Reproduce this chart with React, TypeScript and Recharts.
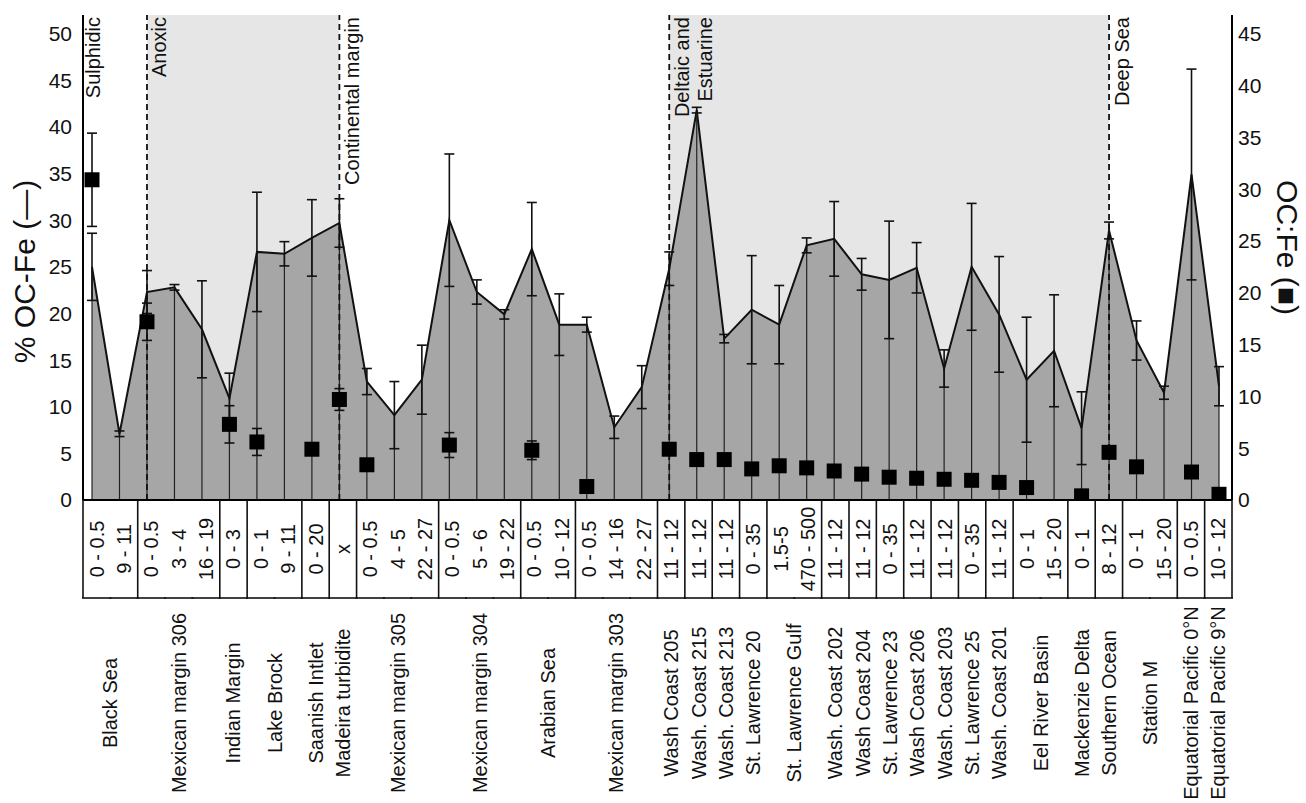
import React from 'react';
import {
  ComposedChart,
  Area,
  Line,
  XAxis,
  YAxis,
  ErrorBar,
  ReferenceArea,
  ReferenceLine,
} from 'recharts';

// ---------- data ----------
const siteNames = [
  'Black Sea', 'Black Sea',
  'Mexican margin 306', 'Mexican margin 306', 'Mexican margin 306',
  'Indian Margin',
  'Lake Brock', 'Lake Brock',
  'Saanish Intlet',
  'Madeira turbidite',
  'Mexican margin 305', 'Mexican margin 305', 'Mexican margin 305',
  'Mexican margin 304', 'Mexican margin 304', 'Mexican margin 304',
  'Arabian Sea', 'Arabian Sea',
  'Mexican margin 303', 'Mexican margin 303', 'Mexican margin 303',
  'Wash Coast 205',
  'Wash. Coast 215',
  'Wash. Coast 213',
  'St. Lawrence 20',
  'St. Lawrence Gulf', 'St. Lawrence Gulf',
  'Wash. Coast 202',
  'Wash Coast 204',
  'St. Lawrence 23',
  'Wash Coast 206',
  'Wash. Coast 203',
  'St. Lawrence 25',
  'Wash. Coast 201',
  'Eel River Basin', 'Eel River Basin',
  'Mackenzie Delta',
  'Southern Ocean',
  'Station M', 'Station M',
  'Equatorial Pacific 0°N',
  'Equatorial Pacific 9°N',
];

const depthLabels = [
  '0 - 0.5', '9 - 11',
  '0 - 0.5', '3 - 4', '16 - 19',
  '0 - 3',
  '0 - 1', '9 - 11',
  '0 - 20',
  'x',
  '0 - 0.5', '4 - 5', '22 - 27',
  '0 - 0.5', '5 - 6', '19 - 22',
  '0 - 0.5', '10 - 12',
  '0 - 0.5', '14 - 16', '22 - 27',
  '11 - 12', '11 - 12', '11 - 12',
  '0 - 35',
  '1.5-5', '470 - 500',
  '11 - 12', '11 - 12',
  '0 - 35',
  '11 - 12', '11 - 12',
  '0 - 35',
  '11 - 12',
  '0 - 1', '15 - 20',
  '0 - 1',
  '8 - 12',
  '0 - 1', '15 - 20',
  '0 - 0.5',
  '10 - 12',
];

// % OC-Fe (left axis, area)
const ocFePct = [
  25.0, 7.1, 22.3, 22.8, 18.3, 10.9, 26.6, 26.4, 28.1, 29.7,
  12.7, 9.1, 12.9, 30.0, 22.3, 19.9, 26.9, 18.8, 18.8, 7.8,
  12.1, 24.8, 41.8, 17.3, 20.4, 18.8, 27.3, 28.0, 24.2, 23.6,
  24.9, 14.1, 25.0, 19.9, 12.9, 16.0, 7.7, 28.9, 17.1, 11.5,
  34.9, 12.2,
];
const ocFePctErr = [
  3.6, 0.3, 2.3, 0.3, 5.2, 2.7, 6.4, 1.3, 4.1, 2.6,
  1.4, 3.6, 3.7, 7.1, 1.3, 0.5, 5.0, 3.3, 0.8, 1.2,
  2.3, 1.8, 0.3, 0.45, 5.8, 4.2, 0.8, 4.0, 1.7, 6.3,
  2.7, 2.0, 6.8, 6.2, 6.7, 6.0, 3.9, 0.9, 2.1, 0.7,
  11.3, 2.1,
];

// OC:Fe molar ratio (right axis, squares)
const ocFeRatio: (number | null)[] = [
  30.9, null, 17.2, null, null, 7.3, 5.6, null, 4.9, 9.7,
  3.4, null, null, 5.3, null, null, 4.8, null, 1.3, null,
  null, 4.9, 3.9, 3.9, 3.0, 3.3, 3.1, 2.8, 2.5, 2.2,
  2.1, 2.0, 1.9, 1.7, 1.2, null, 0.4, 4.6, 3.2, null,
  2.7, 0.55,
];
const ocFeRatioErr: (number | null)[] = [
  4.5, null, 1.8, null, null, 1.8, 1.3, null, null, 1.05,
  null, null, null, 1.2, null, null, 0.9, null, null, null,
  null, null, null, null, null, null, null, null, null, null,
  null, null, null, null, null, null, null, null, null, null,
  null, null,
];

const leftTicks = [0, 5, 10, 15, 20, 25, 30, 35, 40, 45, 50];
const rightTicks = [0, 5, 10, 15, 20, 25, 30, 35, 40, 45];

// environment regions: index of the category where each starts
const regionStarts = [0, 2, 9, 21, 37];
const regionNames = [['Sulphidic'], ['Anoxic'], ['Continental margin'], ['Deltaic and', 'Estuarine'], ['Deep Sea']];
const shadedRegions = [[2, 9], [21, 37]];

// ---------- derived table ----------
const keys = siteNames.map((s, i) => `${i}|${s}|${depthLabels[i]}`);
const rows = keys.map((k, i) => ({
  key: k,
  site: siteNames[i],
  depth: depthLabels[i],
  ocFe: ocFePct[i],
  ocFeErr: ocFePctErr[i],
  drop: [ocFePct[i], 0],
  ratio: ocFeRatio[i],
  ratioErr: ocFeRatioErr[i],
}));

const groupStart = (i: number) => i === 0 || siteNames[i] !== siteNames[i - 1];
const groupSize = (i: number) => {
  let n = 0;
  while (i + n < siteNames.length && siteNames[i + n] === siteNames[i]) n++;
  return n;
};

const FONT = '"Liberation Sans", Arial, Helvetica, sans-serif';
const INK = '#111';

const CHART_W = 1306;
const CHART_H = 803;
const LEFT_AXIS_W = 83;
const RIGHT_AXIS_W = 74;
const TOP = 15;
const TABLE_AXIS_H = 303;

const TableTick = (props: any) => {
  const { x, y, index, width, visibleTicksCount } = props;
  const n = visibleTicksCount || rows.length;
  const plotW = width || CHART_W - LEFT_AXIS_W - RIGHT_AXIS_W;
  const step = plotW / n;
  const half = step / 2;
  const row = rows[index];
  if (!row) return null;
  const tableH = 98;
  const depthY = y + 49;
  const siteY = y + 203;
  const els: React.ReactNode[] = [];
  els.push(
    <text
      key="d"
      x={x}
      y={depthY}
      transform={`rotate(-90 ${x} ${depthY})`}
      textAnchor="middle"
      dominantBaseline="central"
      fontSize={20}
      fontFamily={FONT}
      fill={INK}
    >
      {row.depth}
    </text>
  );
  els.push(
    <line key="b" x1={x - half - 1} x2={x + half + 1} y1={y + tableH} y2={y + tableH} stroke={INK} strokeWidth={1.6} />
  );
  if (groupStart(index)) {
    els.push(<line key="l" x1={x - half} x2={x - half} y1={y} y2={y + tableH} stroke={INK} strokeWidth={1.6} />);
    const g = groupSize(index);
    const sx = x + (g - 1) * half;
    els.push(
      <text
        key="s"
        x={sx}
        y={siteY}
        transform={`rotate(-90 ${sx} ${siteY})`}
        textAnchor="middle"
        dominantBaseline="central"
        fontSize={20}
        fontFamily={FONT}
        fill={INK}
      >
        {row.site}
      </text>
    );
  }
  if (index === rows.length - 1) {
    els.push(<line key="r" x1={x + half} x2={x + half} y1={y} y2={y + tableH} stroke={INK} strokeWidth={1.6} />);
  }
  return <g>{els}</g>;
};

const SquareDot = (p: any) => {
  if (p.value == null || p.cx == null || p.cy == null) return <g key={p.key ?? p.index} />;
  return <rect key={p.key ?? p.index} x={p.cx - 7.5} y={p.cy - 7.5} width={15} height={15} fill="#000" />;
};

const regionLabel = (lines: string[], dx: number) => (props: any) => {
  const vb = props.viewBox;
  if (!vb) return null;
  return (
    <g>
      {lines.map((t, i) => {
        const tx = vb.x + dx + i * 23.5;
        const ty = vb.y + 2;
        return (
          <text
            key={i}
            x={tx}
            y={ty}
            transform={`rotate(-90 ${tx} ${ty})`}
            textAnchor="end"
            dominantBaseline="central"
            fontSize={20}
            fontFamily={FONT}
            fill={INK}
          >
            {t}
          </text>
        );
      })}
    </g>
  );
};

const leftTitle = (props: any) => {
  const vb = props.viewBox;
  if (!vb) return null;
  const tx = vb.x + 24;
  const ty = vb.y + vb.height / 2 + 14;
  return (
    <text
      x={tx}
      y={ty}
      transform={`rotate(-90 ${tx} ${ty})`}
      textAnchor="middle"
      dominantBaseline="central"
      fontSize={30}
      fontFamily={FONT}
      fill={INK}
    >
      % OC-Fe (—)
    </text>
  );
};

const rightTitle = (props: any) => {
  const vb = props.viewBox;
  if (!vb) return null;
  const tx = vb.x + 55;
  const ty = vb.y + vb.height / 2 - 10;
  return (
    <text
      x={tx}
      y={ty}
      transform={`rotate(90 ${tx} ${ty})`}
      textAnchor="middle"
      dominantBaseline="central"
      fontSize={30}
      fontFamily={FONT}
      fill={INK}
    >
      OC:Fe (■)
    </text>
  );
};

export default function App() {
  return (
    <div style={{ position: 'absolute', left: 0, top: 0, width: CHART_W, height: CHART_H, background: '#fff' }}>
      <ComposedChart
        width={CHART_W}
        height={CHART_H}
        data={rows}
        margin={{ top: TOP, right: 0, bottom: 0, left: 0 }}
      >
        <XAxis
          xAxisId="pts"
          dataKey="key"
          type="category"
          scale="point"
          hide
          height={0}
          padding={{ left: 9, right: 13 }}
        />
        <XAxis
          xAxisId="tbl"
          dataKey="key"
          type="category"
          scale="band"
          height={TABLE_AXIS_H}
          interval={0}
          tickLine={false}
          tickSize={0}
          tickMargin={0}
          tick={<TableTick />}
          axisLine={{ stroke: '#000', strokeWidth: 2 }}
        />
        <YAxis
          yAxisId="l"
          orientation="left"
          width={LEFT_AXIS_W}
          domain={[0, 52]}
          allowDataOverflow
          ticks={leftTicks}
          tickLine={false}
          tickSize={0}
          tickMargin={11}
          axisLine={{ stroke: '#000', strokeWidth: 2 }}
          tick={{ fontSize: 21, fill: INK, fontFamily: FONT }}
          label={leftTitle}
        />
        <YAxis
          yAxisId="r"
          orientation="right"
          width={RIGHT_AXIS_W}
          domain={[0, 46.8]}
          allowDataOverflow
          ticks={rightTicks}
          tickLine={false}
          tickSize={0}
          tickMargin={6}
          axisLine={{ stroke: '#000', strokeWidth: 2 }}
          tick={{ fontSize: 21, fill: INK, fontFamily: FONT }}
          label={rightTitle}
        />

        {shadedRegions.map(([a, b], i) => (
          <ReferenceArea
            key={`sh${i}`}
            xAxisId="pts"
            yAxisId="l"
            x1={keys[a]}
            x2={keys[b]}
            fill="#e6e6e6"
            fillOpacity={1}
            stroke="none"
          />
        ))}

        <Area
          xAxisId="pts"
          yAxisId="l"
          type="linear"
          dataKey="ocFe"
          fill="#a6a6a6"
          fillOpacity={1}
          stroke="#111"
          strokeWidth={2}
          dot={false}
          activeDot={false}
          isAnimationActive={false}
        />

        <Line
          xAxisId="tbl"
          yAxisId="l"
          dataKey="ocFe"
          stroke="none"
          dot={false}
          activeDot={false}
          legendType="none"
          isAnimationActive={false}
        />

        <Line
          xAxisId="pts"
          yAxisId="l"
          type="linear"
          dataKey="ocFe"
          stroke="none"
          dot={false}
          activeDot={false}
          isAnimationActive={false}
        >
          <ErrorBar dataKey="drop" width={0} stroke="#222" strokeWidth={1.2} direction="y" isAnimationActive={false} />
          <ErrorBar dataKey="ocFeErr" width={5} stroke="#111" strokeWidth={1.6} direction="y" isAnimationActive={false} />
        </Line>

        {regionStarts.map((idx, i) => (
          <ReferenceLine
            key={`rl${i}`}
            xAxisId="pts"
            yAxisId="l"
            x={keys[idx]}
            stroke={i === 0 ? 'none' : '#111'}
            strokeWidth={1.8}
            strokeDasharray="6 4"
            label={regionLabel(regionNames[i], i === 0 ? 1 : 12.5)}
          />
        ))}

        <Line
          xAxisId="pts"
          yAxisId="r"
          type="linear"
          dataKey="ratio"
          stroke="none"
          dot={<SquareDot />}
          activeDot={false}
          connectNulls={false}
          isAnimationActive={false}
        >
          <ErrorBar dataKey="ratioErr" width={5} stroke="#111" strokeWidth={1.6} direction="y" isAnimationActive={false} />
        </Line>
      </ComposedChart>
    </div>
  );
}
